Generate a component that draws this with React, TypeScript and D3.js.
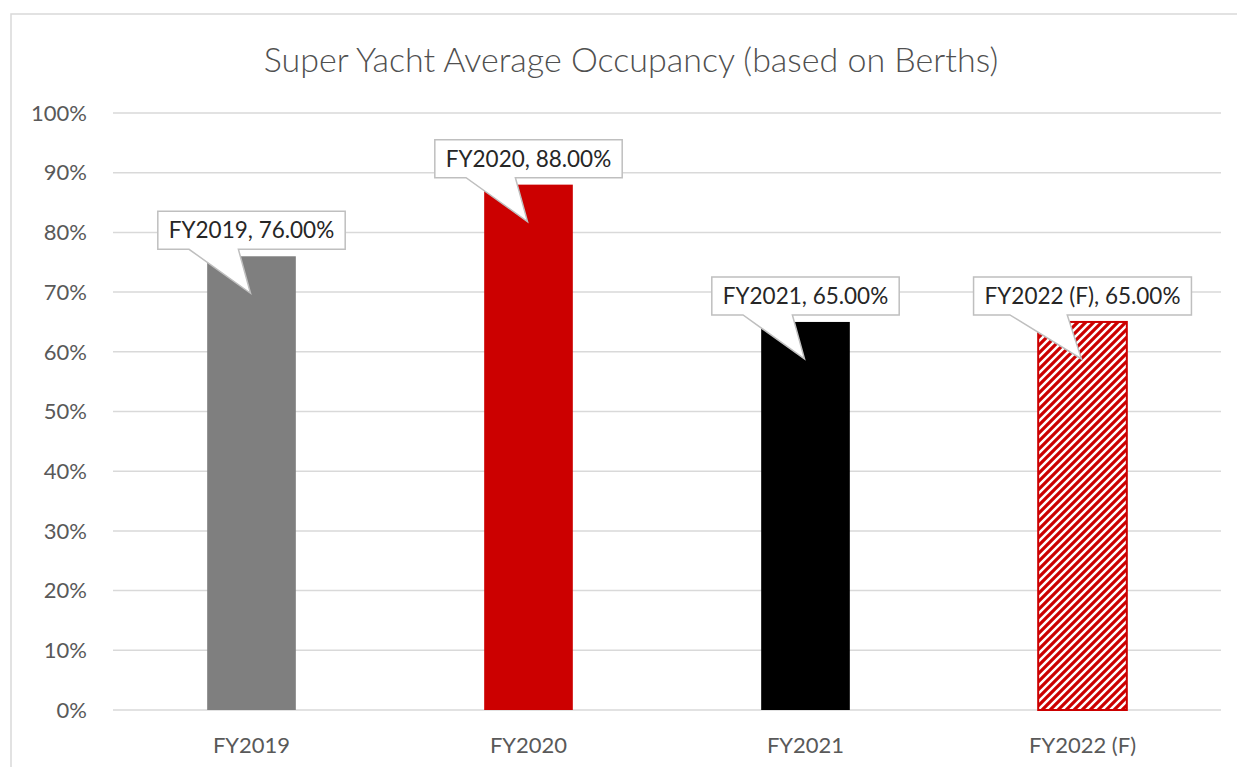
import React, { useEffect, useRef } from 'react';
import * as d3 from 'd3';

const categories = ['FY2019', 'FY2020', 'FY2021', 'FY2022 (F)'];
const occupancy = [0.76, 0.88, 0.65, 0.65];
const yTicks = [0, 0.1, 0.2, 0.3, 0.4, 0.5, 0.6, 0.7, 0.8, 0.9, 1.0];
const barFills = ['#7f7f7f', '#cc0000', '#000000', 'url(#hatchRed)'];
const title = 'Super Yacht Average Occupancy (based on Berths)';

const W = 1237;
const H = 767;
const FONT = 'Lato, "Open Sans", sans-serif';

const App = () => {
  const ref = useRef<SVGSVGElement | null>(null);

  useEffect(() => {
    draw();
  }, []);

  const draw = () => {
    const svg = d3.select(ref.current);
    svg.selectAll('*').remove();

    const left = 113;
    const right = 1221;
    const top = 113;
    const bottom = 710;

    const x = d3.scaleBand<string>().domain(categories).range([left, right]).paddingInner(0.68).paddingOuter(0.34);
    const y = d3.scaleLinear().domain([0, 1]).range([bottom, top]);

    // hatch pattern for the forecast bar
    const defs = svg.append('defs');
    const pat = defs.append('pattern')
      .attr('id', 'hatchRed')
      .attr('patternUnits', 'userSpaceOnUse')
      .attr('width', 8)
      .attr('height', 8);
    pat.append('rect').attr('width', 8).attr('height', 8).attr('fill', '#ffffff');
    pat.append('path')
      .attr('d', 'M-2,2 L2,-2 M0,8 L8,0 M6,10 L10,6')
      .attr('stroke', '#cc0000')
      .attr('stroke-width', 3.2);

    // chart border
    svg.append('rect')
      .attr('x', 11).attr('y', 14)
      .attr('width', W + 20).attr('height', H + 20)
      .attr('fill', '#ffffff')
      .attr('stroke', '#d9d9d9')
      .attr('stroke-width', 1.5);

    // title
    svg.append('text')
      .attr('x', 631).attr('y', 72)
      .attr('text-anchor', 'middle')
      .attr('font-family', FONT)
      .attr('font-weight', 300)
      .attr('font-size', 34)
      .attr('fill', '#505050')
      .text(title);

    // gridlines + y labels
    svg.append('g').selectAll('line')
      .data(yTicks)
      .enter()
      .append('line')
      .attr('x1', left).attr('x2', right)
      .attr('y1', (d) => y(d)).attr('y2', (d) => y(d))
      .attr('stroke', '#d9d9d9')
      .attr('stroke-width', 1.5);

    svg.append('g').selectAll('text')
      .data(yTicks)
      .enter()
      .append('text')
      .attr('x', 87)
      .attr('y', (d) => y(d))
      .attr('dy', '0.35em')
      .attr('text-anchor', 'end')
      .attr('font-family', FONT)
      .attr('font-size', 22)
      .attr('fill', '#595959')
      .text((d) => d3.format('.0%')(d));

    // bars
    svg.append('g').selectAll('rect')
      .data(categories)
      .enter()
      .append('rect')
      .attr('x', (d) => x(d) || 0)
      .attr('width', x.bandwidth())
      .attr('y', (d, i) => y(occupancy[i]))
      .attr('height', (d, i) => bottom - y(occupancy[i]))
      .attr('fill', (d, i) => barFills[i])
      .attr('stroke', (d, i) => (i === 3 ? '#cc0000' : 'none'))
      .attr('stroke-width', 2);

    // x labels
    svg.append('g').selectAll('text')
      .data(categories)
      .enter()
      .append('text')
      .attr('x', (d) => (x(d) || 0) + x.bandwidth() / 2)
      .attr('y', 753)
      .attr('text-anchor', 'middle')
      .attr('font-family', FONT)
      .attr('font-size', 22)
      .attr('fill', '#595959')
      .text((d) => d);

    // callout labels
    const fmt = d3.format('.2%');
    const callouts = svg.append('g');
    categories.forEach((c, i) => {
      const cx = (x(c) || 0) + x.bandwidth() / 2;
      const barTop = y(occupancy[i]);
      const g = callouts.append('g');
      const path = g.append('path');
      const label = g.append('text')
        .attr('x', cx)
        .attr('text-anchor', 'middle')
        .attr('font-family', FONT)
        .attr('font-size', 22.5)
        .attr('fill', '#262626')
        .text(`${c}, ${fmt(occupancy[i])}`);
      const tw = (label.node() as SVGTextElement).getComputedTextLength();
      const bw = tw + 22;
      const bh = 38;
      const bBottom = barTop - 7;
      const bTop = bBottom - bh;
      const bl = cx - bw / 2;
      const br = cx + bw / 2;
      const baseL = cx - bw / 3;
      const baseR = cx - bw * 0.07;
      const tipX = cx - 1;
      const tipY = barTop + 37;
      label.attr('y', bTop + bh / 2).attr('dy', '0.35em');
      path
        .attr('d', `M${bl},${bTop} H${br} V${bBottom} H${baseR} L${tipX},${tipY} L${baseL},${bBottom} H${bl} Z`)
        .attr('fill', '#ffffff')
        .attr('stroke', '#bfbfbf')
        .attr('stroke-width', 1.5)
        .attr('stroke-linejoin', 'miter');
      label.raise();
    });
  };

  return (
    <svg
      ref={ref}
      width={W}
      height={H}
      style={{ position: 'absolute', left: 0, top: 0, background: '#ffffff' }}
    />
  );
};

export default App;
